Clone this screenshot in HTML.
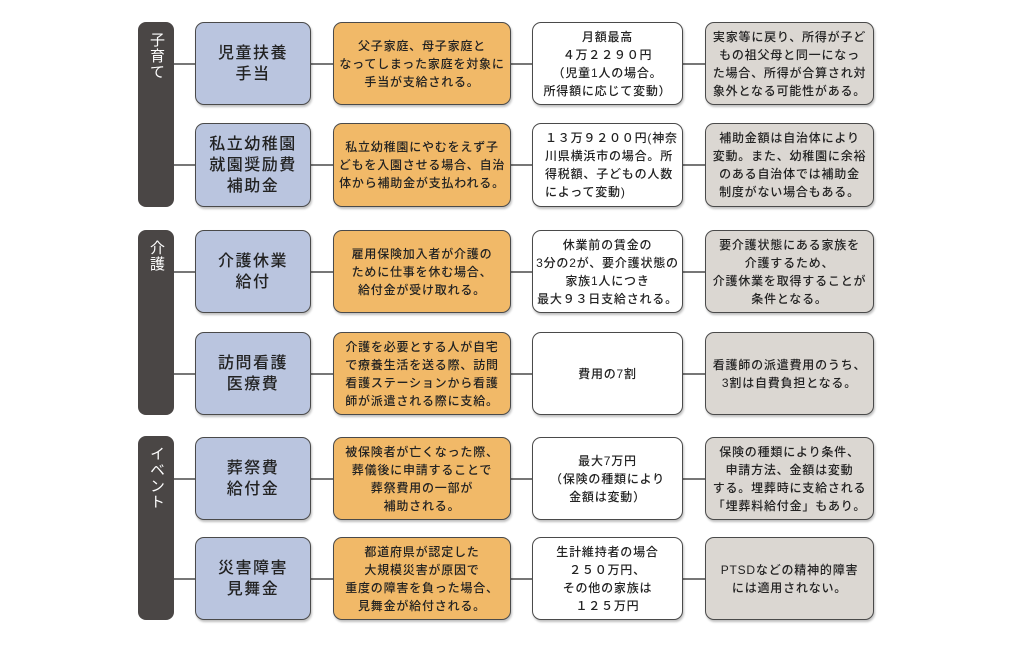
<!DOCTYPE html>
<html><head><meta charset="utf-8"><style>
body{margin:0;width:1024px;height:646px;background:#fff;position:relative;overflow:hidden;font-family:"Liberation Sans","Noto Sans CJK JP",sans-serif;}
.b{position:absolute;box-sizing:border-box;border:1.5px solid #4a4a4a;border-radius:9px;display:flex;align-items:center;justify-content:center;text-align:center;color:#222;box-shadow:1px 2px 2px rgba(0,0,0,.25);font-weight:500;}
.bar{position:absolute;left:138px;width:36px;background:#4a4645;border-radius:8px;color:#fff;font-size:15px;writing-mode:vertical-rl;padding-top:10px;box-sizing:border-box;letter-spacing:1px;line-height:36px;}
.c1{left:195px;width:116px;background:#bac5df;font-size:16px;line-height:21px;letter-spacing:1.5px}
.c2{left:333px;width:178px;background:#f1b968;font-size:12px;line-height:18px;letter-spacing:.8px}
.c3{left:532px;width:151px;background:#fff;font-size:12px;line-height:18px;letter-spacing:.8px}
.c4{left:705px;width:169px;background:#dbd7d2;font-size:12px;line-height:18px;letter-spacing:.8px}
.ln{position:absolute;height:1.5px;background:#777;left:174px;width:700px;}
</style></head><body>
<div class="bar" style="top:22px;height:185px">子育て</div>
<div class="bar" style="top:230px;height:185px">介護</div>
<div class="bar" style="top:436px;height:184px">イベント</div>

<div class="ln" style="top:63px"></div>
<div class="ln" style="top:164px"></div>
<div class="ln" style="top:271px"></div>
<div class="ln" style="top:373px"></div>
<div class="ln" style="top:478px"></div>
<div class="ln" style="top:578px"></div>

<div class="b c1" style="top:22px;height:83px">児童扶養<br>手当</div>
<div class="b c2" style="top:22px;height:83px">父子家庭、母子家庭と<br>なってしまった家庭を対象に<br>手当が支給される。</div>
<div class="b c3" style="top:22px;height:83px">月額最高<br>４万２２９０円<br>（児童1人の場合。<br>所得額に応じて変動）</div>
<div class="b c4" style="top:22px;height:83px">実家等に戻り、所得が子ど<br>もの祖父母と同一になっ<br>た場合、所得が合算され対<br>象外となる可能性がある。</div>

<div class="b c1" style="top:123px;height:84px">私立幼稚園<br>就園奨励費<br>補助金</div>
<div class="b c2" style="top:123px;height:84px">私立幼稚園にやむをえず子<br>どもを入園させる場合、自治<br>体から補助金が支払われる。</div>
<div class="b c3" style="top:123px;height:84px;text-align:left;justify-content:flex-start;padding-left:12px">１３万９２００円(神奈<br>川県横浜市の場合。所<br>得税額、子どもの人数<br>によって変動)</div>
<div class="b c4" style="top:123px;height:84px">補助金額は自治体により<br>変動。また、幼稚園に余裕<br>のある自治体では補助金<br>制度がない場合もある。</div>

<div class="b c1" style="top:230px;height:83px">介護休業<br>給付</div>
<div class="b c2" style="top:230px;height:83px">雇用保険加入者が介護の<br>ために仕事を休む場合、<br>給付金が受け取れる。</div>
<div class="b c3" style="top:230px;height:83px">休業前の賃金の<br>3分の2が、要介護状態の<br>家族1人につき<br>最大９３日支給される。</div>
<div class="b c4" style="top:230px;height:83px">要介護状態にある家族を<br>介護するため、<br>介護休業を取得することが<br>条件となる。</div>

<div class="b c1" style="top:332px;height:83px">訪問看護<br>医療費</div>
<div class="b c2" style="top:332px;height:83px">介護を必要とする人が自宅<br>で療養生活を送る際、訪問<br>看護ステーションから看護<br>師が派遣される際に支給。</div>
<div class="b c3" style="top:332px;height:83px">費用の7割</div>
<div class="b c4" style="top:332px;height:83px">看護師の派遣費用のうち、<br>3割は自費負担となる。</div>

<div class="b c1" style="top:437px;height:83px">葬祭費<br>給付金</div>
<div class="b c2" style="top:437px;height:83px">被保険者が亡くなった際、<br>葬儀後に申請することで<br>葬祭費用の一部が<br>補助される。</div>
<div class="b c3" style="top:437px;height:83px">最大7万円<br>（保険の種類により<br>金額は変動）</div>
<div class="b c4" style="top:437px;height:83px">保険の種類により条件、<br>申請方法、金額は変動<br>する。埋葬時に支給される<br>「埋葬料給付金」もあり。</div>

<div class="b c1" style="top:537px;height:83px">災害障害<br>見舞金</div>
<div class="b c2" style="top:537px;height:83px">都道府県が認定した<br>大規模災害が原因で<br>重度の障害を負った場合、<br>見舞金が給付される。</div>
<div class="b c3" style="top:537px;height:83px">生計維持者の場合<br>２５０万円、<br>その他の家族は<br>１２５万円</div>
<div class="b c4" style="top:537px;height:83px">PTSDなどの精神的障害<br>には適用されない。</div>
</body></html>
